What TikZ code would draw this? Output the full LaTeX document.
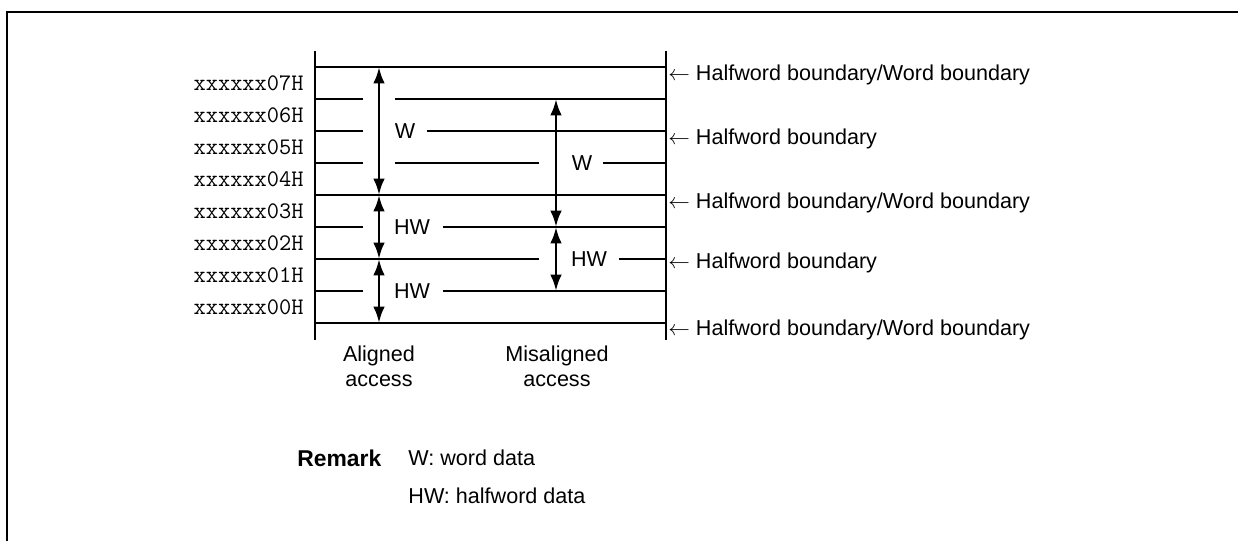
\documentclass[tikz,border=0pt]{standalone}
\usepackage{fontspec}
\setmainfont{Liberation Sans}
\usepackage{tikz}
\usetikzlibrary{arrows.meta}
\newcommand{\rowline}[3]{\draw[rowln] (#2,#1) -- (#3,#1);}
\newcommand{\boundlabel}[3]{\node[bound] (#1) at (668,#2) {$\leftarrow$ #3};}
\tikzset{
  rowln/.style={line width=0.5pt},
  rail/.style={line width=1.1pt},
  access/.style={line width=1.3pt, {Latex[length=7.6pt,width=5.4pt]}-{Latex[length=7.6pt,width=5.4pt]}},
  addr/.style={anchor=east, inner sep=0pt, font=\ttfamily\fontsize{11}{13}\selectfont},
  bound/.style={anchor=west, inner sep=0pt},
  tag/.style={inner sep=0pt, font=\fontsize{10}{11.5}\selectfont}
}

\begin{document}
\begin{tikzpicture}[x=0.0163cm, y=-0.0163cm]
        \useasboundingbox (0,0) rectangle (1238,541);
        \draw[line width=1pt] (7,541) -- (7,12) -- (1238,12);
        \draw[rail] (315,51) -- (315,340);
        \draw[rail] (666,51) -- (666,340);
        \rowline{67}{315}{666}
        \rowline{99}{315}{363} \rowline{99}{395}{666}
        \rowline{131}{315}{363} \rowline{131}{427}{666}
        \rowline{163}{315}{363} \rowline{163}{395}{539} \rowline{163}{603}{666}
        \rowline{195}{315}{666}
        \rowline{227}{315}{363} \rowline{227}{443}{666}
        \rowline{259}{315}{539} \rowline{259}{619}{666}
        \rowline{291}{315}{363} \rowline{291}{443}{666}
        \rowline{323}{315}{666}
        \foreach \i in {0,...,7} {\node[addr] (addr\i) at (304,{307-32*\i}) {xxxxxx0\i H};}
        \coordinate (al7) at (379,67);
        \coordinate (al4) at (379,195);
        \coordinate (al2) at (379,259);
        \coordinate (al0) at (379,323);
        \coordinate (mis6) at (556,99);
        \coordinate (mis2) at (556,227);
        \coordinate (mis0) at (556,291);
        \draw[access] (al7) -- (al4);
        \draw[access] (al4) -- (al2);
        \draw[access] (al2) -- (al0);
        \draw[access] (mis6) -- (mis2);
        \draw[access] (mis2) -- (mis0);
        \node[tag] (wal) at (405,131) {W};
        \node[tag] (hwal1) at (412,227) {HW};
        \node[tag] (hwal0) at (412,291) {HW};
        \node[tag] (wmis) at (582,163) {W};
        \node[tag] (hwmis) at (589,259) {HW};
        \boundlabel{b8}{75}{Halfword boundary/Word boundary}
        \boundlabel{b6}{139}{Halfword boundary}
        \boundlabel{b4}{203}{Halfword boundary/Word boundary}
        \boundlabel{b2}{263}{Halfword boundary}
        \boundlabel{b0}{330}{Halfword boundary/Word boundary}
        \node[tag, align=center] (aligned) at (379,366) {Aligned\\access};
        \node[tag, align=center] (misaligned) at (557,366) {Misaligned\\access};
        \node[tag, anchor=west, font=\fontsize{10.6}{12}\selectfont\bfseries] (remark) at (297,458) {Remark};
        \node[tag, anchor=west] (wdef) at (408,458) {W: word data};
        \node[tag, anchor=west] (hwdef) at (408,496) {HW: halfword data};
\end{tikzpicture}
\end{document}
